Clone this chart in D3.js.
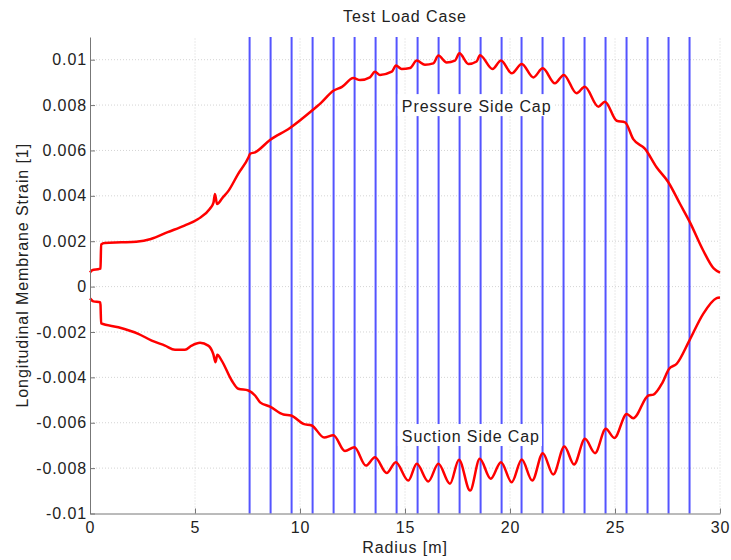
<!DOCTYPE html>
<html>
<head>
<meta charset="utf-8">
<script src="https://cdn.jsdelivr.net/npm/d3@7"></script>
<style>
  body { margin: 0; background: #fff; }
  text { font-family: "Liberation Sans", Arial, sans-serif; fill: #222; letter-spacing: 0.9px; }
</style>
</head>
<body>
<div id="viz"></div>
<script>
// pressure side (upper) curve
const pressureR = [0, 0.1, 0.45, 0.5, 0.53, 0.7, 1.5, 2.2, 2.9, 3.7, 4.5, 5.15, 5.7, 5.88, 5.95, 6.05, 6.3, 6.6, 7.05, 7.55, 7.62, 7.86, 8.57, 9.52, 10.56, 11.0, 11.59, 12.0, 12.54, 12.86, 13.33, 13.57, 13.81, 14.37, 14.57, 14.84, 15.24, 15.56, 15.95, 16.35, 16.59, 16.98, 17.38, 17.59, 18.02, 18.41, 18.57, 19.17, 19.57, 20.08, 20.56, 21.11, 21.56, 22.14, 22.56, 23.17, 23.56, 24.21, 24.52, 25.08, 25.48, 25.87, 26.43, 26.98, 27.54, 28.1, 28.57, 29.2, 29.7, 30];
const pressureV = [0.00062, 0.00072, 0.00078, 0.0008, 0.00186, 0.00192, 0.00195, 0.00198, 0.0021, 0.0024, 0.00269, 0.00298, 0.00342, 0.0037, 0.00408, 0.00364, 0.0039, 0.00423, 0.00496, 0.0057, 0.00585, 0.00592, 0.00646, 0.00699, 0.00775, 0.0081, 0.00863, 0.0088, 0.00919, 0.0091, 0.00922, 0.00947, 0.00933, 0.00947, 0.00974, 0.00959, 0.00963, 0.00996, 0.00978, 0.00984, 0.01018, 0.00988, 0.00996, 0.01028, 0.00981, 0.00992, 0.0102, 0.00959, 0.00996, 0.0094, 0.00981, 0.00922, 0.00962, 0.00896, 0.00933, 0.00852, 0.00881, 0.00793, 0.00815, 0.00731, 0.00724, 0.0065, 0.00607, 0.00526, 0.0046, 0.00364, 0.00283, 0.00159, 0.0008, 0.00062];

// suction side (lower) curve
const suctionR = [0, 0.16, 0.48, 0.5, 0.53, 1.35, 2.3, 2.94, 3.57, 4.05, 4.52, 4.84, 5.24, 5.63, 5.87, 5.98, 6.06, 6.27, 6.75, 7.06, 7.54, 7.86, 8.1, 8.57, 9.21, 9.57, 10.16, 10.56, 11.15, 11.59, 12.14, 12.59, 13.14, 13.57, 14.13, 14.56, 15.16, 15.56, 16.11, 16.59, 17.14, 17.57, 18.1, 18.56, 19.08, 19.57, 20.08, 20.56, 21.06, 21.56, 22.06, 22.59, 23.05, 23.57, 24.05, 24.56, 24.97, 25.56, 25.87, 26.59, 26.83, 27.25, 27.57, 27.94, 28.54, 29.2, 29.84, 30];
const suctionV = [-0.00052, -0.00065, -0.00069, -0.0008, -0.00162, -0.00179, -0.00208, -0.00238, -0.0026, -0.00278, -0.00278, -0.0026, -0.00248, -0.0026, -0.00297, -0.00333, -0.003, -0.00326, -0.00414, -0.0045, -0.00458, -0.0048, -0.0051, -0.00529, -0.00564, -0.00568, -0.00605, -0.00612, -0.00665, -0.00655, -0.00725, -0.00708, -0.00789, -0.00752, -0.00822, -0.00774, -0.00855, -0.00781, -0.00859, -0.00781, -0.00869, -0.00763, -0.00899, -0.00759, -0.00847, -0.00774, -0.00862, -0.00762, -0.00855, -0.00734, -0.00828, -0.00705, -0.00784, -0.00671, -0.00734, -0.00627, -0.00667, -0.00561, -0.0058, -0.0048, -0.00476, -0.00425, -0.00363, -0.0034, -0.00238, -0.0012, -0.00051, -0.00048];

// rib / station positions (blue lines)
const stationR = [7.6, 8.6, 9.6, 10.6, 11.6, 12.6, 13.6, 14.6, 15.6, 16.6, 17.6, 18.6, 19.6, 20.55, 21.55, 22.55, 23.55, 24.55, 25.55, 26.55, 27.55, 28.55];

const xTicks = [0, 5, 10, 15, 20, 25, 30];
const yTicks = [-0.01, -0.008, -0.006, -0.004, -0.002, 0, 0.002, 0.004, 0.006, 0.008, 0.01];
const yTickLabels = ["-0.01", "-0.008", "-0.006", "-0.004", "-0.002", "0", "0.002", "0.004", "0.006", "0.008", "0.01"];

// annotation text, anchored at its baseline start
const labels = [
  { text: "Pressure Side Cap", r: 14.85, v: 0.00769 },
  { text: "Suction Side Cap", r: 14.85, v: -0.00685 }
];

const W = 731, H = 560;
const margin = {top: 37, right: 11, bottom: 46.5, left: 90};

const svg = d3.select("#viz")
  .append("svg")
    .attr("width", W)
    .attr("height", H);

const x = d3.scaleLinear().domain([0, 30]).range([margin.left, W - margin.right]);
const y = d3.scaleLinear().domain([-0.01, 0.011]).range([H - margin.bottom, margin.top]);

// dotted grid
svg.append("g")
  .selectAll("line")
  .data(xTicks.slice(1))
  .join("line")
    .attr("x1", d => x(d)).attr("x2", d => x(d))
    .attr("y1", y.range()[0]).attr("y2", y.range()[1])
    .style("stroke", "#d4d4d4")
    .style("stroke-dasharray", "1,2");

svg.append("g")
  .selectAll("line")
  .data(yTicks.slice(1))
  .join("line")
    .attr("x1", x.range()[0]).attr("x2", x.range()[1])
    .attr("y1", d => y(d)).attr("y2", d => y(d))
    .style("stroke", "#d4d4d4")
    .style("stroke-dasharray", "1,2");

// station lines
svg.append("g")
  .selectAll("line")
  .data(stationR)
  .join("line")
    .attr("x1", d => x(d)).attr("x2", d => x(d))
    .attr("y1", y.range()[0]).attr("y2", y.range()[1])
    .style("stroke", "#5454ff")
    .style("stroke-width", 2);

// curves
const line = d3.line()
  .x(d => x(d[0]))
  .y(d => y(d[1]))
  .curve(d3.curveMonotoneX);

[[pressureR, pressureV], [suctionR, suctionV]].forEach(([rs, vs]) => {
  svg.append("path")
    .datum(rs.map((r, i) => [r, vs[i]]))
    .attr("d", line)
    .style("fill", "none")
    .style("stroke", "#ff0000")
    .style("stroke-width", 2.5)
    .style("stroke-linejoin", "round");
});

// text labels with white background
labels.forEach(l => {
  const g = svg.append("g");
  const bg = g.append("rect").style("fill", "#fff");
  const t = g.append("text")
    .attr("x", x(l.r))
    .attr("y", y(l.v))
    .style("font-size", "16px")
    .text(l.text);
  const bb = t.node().getBBox();
  bg.attr("x", bb.x - 4).attr("y", bb.y - 4)
    .attr("width", bb.width + 6).attr("height", bb.height + 5);
});

// axes
const xAxis = svg.append("g")
  .attr("transform", `translate(0,${y.range()[0]})`)
  .call(d3.axisBottom(x).tickValues(xTicks).tickSizeInner(-5).tickSizeOuter(0).tickPadding(8));

const yAxis = svg.append("g")
  .attr("transform", `translate(${x.range()[0]},0)`)
  .call(d3.axisLeft(y).tickValues(yTicks).tickSizeInner(-5).tickSizeOuter(0).tickPadding(3)
    .tickFormat((d, i) => yTickLabels[i]));

[xAxis, yAxis].forEach(a => {
  a.select(".domain").style("stroke", "#777");
  a.selectAll(".tick line").style("stroke", "#777");
  a.selectAll(".tick text")
    .style("font-size", "16px")
    .style("font-family", "'Liberation Sans', Arial, sans-serif")
    .style("letter-spacing", "0.9px")
    .style("fill", "#222");
});

svg.append("text")
  .attr("x", (x.range()[0] + x.range()[1]) / 2)
  .attr("y", 553)
  .attr("text-anchor", "middle")
  .style("font-size", "16px")
  .text("Radius [m]");

svg.append("text")
  .attr("transform", `translate(28,${(y.range()[0] + y.range()[1]) / 2}) rotate(-90)`)
  .attr("text-anchor", "middle")
  .style("font-size", "16px")
  .text("Longitudinal Membrane Strain [1]");

svg.append("text")
  .attr("x", (x.range()[0] + x.range()[1]) / 2)
  .attr("y", 22)
  .attr("text-anchor", "middle")
  .style("font-size", "16px")
  .text("Test Load Case");
</script>
</body>
</html>
